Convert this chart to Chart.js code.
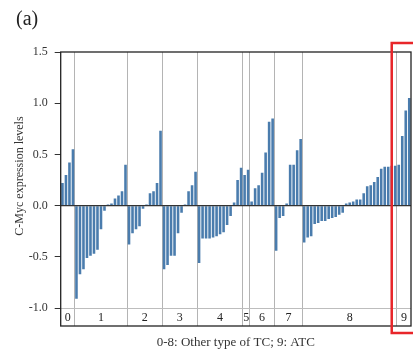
<!DOCTYPE html>
<html>
<head>
<meta charset="utf-8">
<script src="https://cdn.jsdelivr.net/npm/chart.js@4.4.1/dist/chart.umd.min.js"></script>
<style>
  html, body { margin: 0; padding: 0; background: #fff; }
  #wrap { width: 413px; height: 353px; }
</style>
</head>
<body>
<div id="wrap"><canvas id="chart"></canvas></div>
<script>
// Valores, un arreglo por grupo
const group0 = [0.22, 0.30, 0.42, 0.55];
const group1 = [-0.91, -0.67, -0.62, -0.51, -0.49, -0.47, -0.43, -0.23, -0.05, 0.01, 0.02, 0.07, 0.10, 0.14, 0.40];
const group2 = [-0.38, -0.27, -0.23, -0.20, -0.03, 0.01, 0.12, 0.14, 0.22, 0.73];
const group3 = [-0.62, -0.58, -0.49, -0.49, -0.27, -0.07, 0.01, 0.14, 0.20, 0.33];
const group4 = [-0.56, -0.32, -0.32, -0.32, -0.31, -0.30, -0.28, -0.26, -0.19, -0.10, 0.03, 0.25, 0.37];
const group5 = [0.30, 0.35];
const group6 = [0.04, 0.17, 0.20, 0.32, 0.52, 0.82, 0.85];
const group7 = [-0.44, -0.12, -0.10, 0.02, 0.40, 0.40, 0.54, 0.65];
const group8 = [-0.36, -0.31, -0.30, -0.18, -0.17, -0.15, -0.15, -0.13, -0.12, -0.11, -0.09, -0.07, 0.02, 0.03, 0.04, 0.06, 0.06, 0.12, 0.19, 0.20, 0.23, 0.28, 0.36, 0.38, 0.38, 0.39, 0.39];
const group9 = [0.40, 0.68, 0.93, 1.05];

const groupLabels = ['0', '1', '2', '3', '4', '5', '6', '7', '8', '9'];
const yTickValues = [1.5, 1.0, 0.5, 0.0, -0.5, -1.0];

const groups = [group0, group1, group2, group3, group4, group5, group6, group7, group8, group9];
const values = groups.flat();
const labels = values.map((v, i) => String(i + 1));

// indice de inicio de cada grupo
const groupStarts = [];
let acc = 0;
groups.forEach(g => { groupStarts.push(acc); acc += g.length; });
const separators = groupStarts.slice(1);

const FONT = "'Liberation Serif', 'DejaVu Serif', serif";

const extrasPlugin = {
    id: 'extras',
    afterDatasetsDraw(chart) {
        const ctx = chart.ctx;
        const area = chart.chartArea;
        const x = chart.scales.x;
        const y = chart.scales.y;

        // linea del cero
        ctx.save();
        ctx.strokeStyle = '#333';
        ctx.lineWidth = 1.2;
        const y0 = y.getPixelForValue(0);
        ctx.beginPath();
        ctx.moveTo(area.left, y0);
        ctx.lineTo(area.right, y0);
        ctx.stroke();

        // caja del grafico
        ctx.strokeStyle = '#222';
        ctx.lineWidth = 1.3;
        ctx.strokeRect(area.left, area.top, area.right - area.left, area.bottom - area.top);

        // etiquetas de grupo en la franja inferior
        ctx.fillStyle = '#222';
        ctx.font = '12px ' + FONT;
        ctx.textAlign = 'center';
        ctx.textBaseline = 'middle';
        const yBand = (y.getPixelForValue(-1) + area.bottom) / 2 + 1;
        groups.forEach((g, i) => {
            const a = x.getPixelForValue(groupStarts[i]);
            const b = x.getPixelForValue(groupStarts[i] + g.length - 1);
            ctx.fillText(groupLabels[i], (a + b) / 2, yBand);
        });

        // titulo del eje Y
        ctx.save();
        const yMid = (y.getPixelForValue(1.5) + y.getPixelForValue(-1.0)) / 2 - 4;
        ctx.translate(20, yMid);
        ctx.rotate(-Math.PI / 2);
        ctx.font = '12px ' + FONT;
        ctx.fillStyle = '#333';
        ctx.fillText('C-Myc expression levels', 0, 0);
        ctx.restore();

        // recuadro rojo sobre el grupo 9
        ctx.strokeStyle = '#e8262a';
        ctx.lineWidth = 2.5;
        const rx = x.getPixelForValue(groupStarts[9] - 2);
        ctx.strokeRect(rx, area.top - 9, chart.width + 20 - rx, area.bottom + 7 - (area.top - 9));
        ctx.restore();
    }
};

new Chart(document.getElementById('chart'), {
    type: 'bar',
    data: {
        labels: labels,
        datasets: [{
            data: values,
            backgroundColor: '#4a7cad',
            borderWidth: 0,
            barPercentage: 0.74,
            categoryPercentage: 1.0
        }]
    },
    options: {
        responsive: true,
        maintainAspectRatio: false,
        animation: false,
        layout: { padding: { left: 16, right: 2, top: 0, bottom: 0 } },
        plugins: {
            legend: { display: false },
            tooltip: { enabled: false },
            title: {
                display: true,
                text: '(a)',
                align: 'start',
                color: '#222',
                font: { family: FONT, size: 20, weight: 'normal' },
                padding: { top: 8, bottom: 20 }
            }
        },
        scales: {
            x: {
                offset: true,
                grid: {
                    offset: true,
                    drawTicks: false,
                    color: c => separators.includes(c.index) ? '#b4b4b4' : 'rgba(0,0,0,0)',
                    lineWidth: 1
                },
                border: { display: false },
                ticks: { display: false },
                title: {
                    display: true,
                    text: '0-8: Other type of TC; 9: ATC',
                    color: '#333',
                    font: { family: FONT, size: 13 },
                    padding: { top: 0, bottom: 3 }
                },
                afterFit: s => { s.height = 27; }
            },
            y: {
                min: -1.175,
                max: 1.5,
                afterBuildTicks: s => { s.ticks = yTickValues.map(v => ({ value: v })); },
                grid: {
                    color: c => (c.tick && c.tick.value === -1) ? '#bdbdbd' : 'rgba(0,0,0,0)',
                    tickColor: '#333',
                    tickLength: 6,
                    lineWidth: 1
                },
                border: { display: false },
                ticks: {
                    color: '#333',
                    padding: 7,
                    font: { family: FONT, size: 12 },
                    callback: v => v.toFixed(1)
                },
                afterFit: s => { s.width = 44.7; }
            }
        }
    },
    plugins: [extrasPlugin]
});
</script>
</body>
</html>
